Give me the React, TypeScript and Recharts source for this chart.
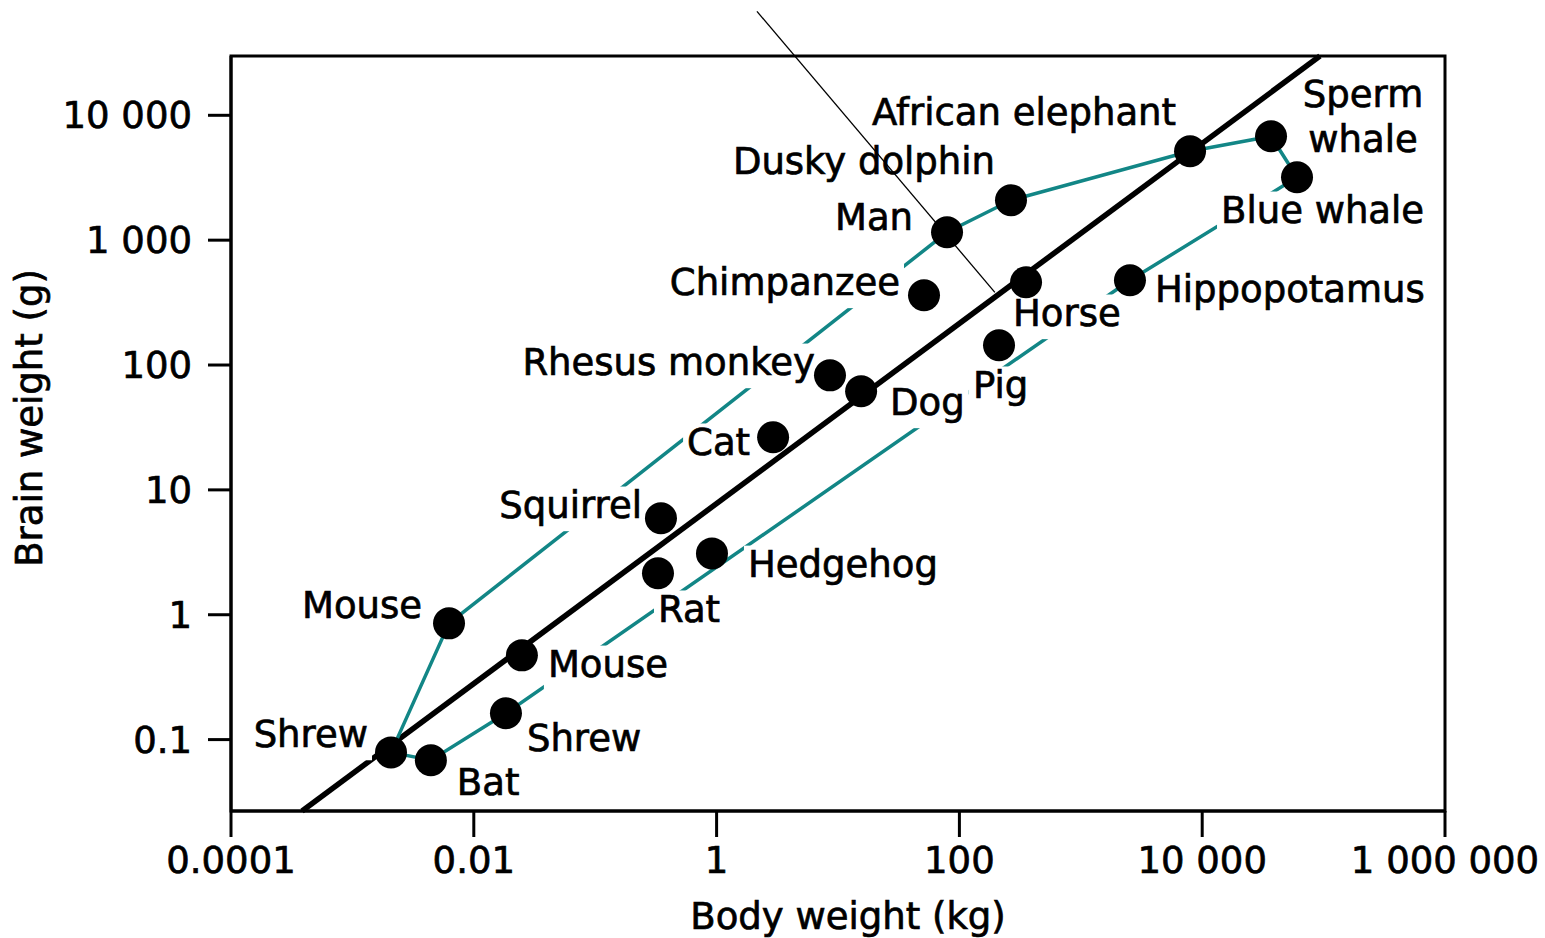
import React, { useLayoutEffect, useRef, useState } from 'react';
import { ScatterChart, Scatter, XAxis, YAxis, ReferenceLine, ReferenceArea } from 'recharts';

const FONT = '"DejaVu Sans", Verdana, sans-serif';
const FS = 37;
const TEXT_STROKE = 0.7;
const TEAL = '#128686';

// animals: body weight (kg) vs brain weight (g)
const IDS = ['shrewA', 'bat', 'mouseA', 'mouseB', 'shrewB', 'rat', 'squirrel', 'hedgehog', 'cat', 'rhesus',
  'dog', 'chimp', 'man', 'pig', 'horse', 'dolphin', 'hippo', 'elephant', 'sperm', 'blue'];
const NAMES = ['Shrew', 'Bat', 'Mouse', 'Mouse', 'Shrew', 'Rat', 'Squirrel', 'Hedgehog', 'Cat', 'Rhesus monkey',
  'Dog', 'Chimpanzee', 'Man', 'Pig', 'Horse', 'Dusky dolphin', 'Hippopotamus', 'African elephant', 'Sperm whale', 'Blue whale'];
const BODY_KG = [0.00208, 0.00443, 0.00625, 0.0249, 0.0184, 0.329, 0.348, 0.916, 2.92, 8.59,
  15.5, 51.1, 79.1, 212, 354, 266, 2541, 7943, 36900, 60400];
const BRAIN_G = [0.079, 0.0683, 0.853, 0.473, 0.1625, 2.15, 5.92, 3.1, 26.4, 82.7,
  61.6, 362, 1156, 144, 460, 2086, 477, 5148, 6790, 3187];

// the two teal outlines, point by point
const UPPER_PATH = ['shrewA', 'mouseA', 'man', 'dolphin', 'elephant', 'sperm', 'blue'];
const LOWER_PATH = ['shrewA', 'bat', 'shrewB', 'hippo', 'blue'];

const X_TICKS = [0.0001, 0.01, 1, 100, 10000, 1000000];
const Y_TICKS = [0.1, 1, 10, 100, 1000, 10000];
const X_DOMAIN: [number, number] = [0.0001, 1000000];
const Y_DOMAIN: [number, number] = [0.0268, 29850];

// straight black line, where it meets the frame
const FIT_LINE = [{ x: 0.000385, y: 0.0268 }, { x: 93300, y: 29850 }];
// thin pointer line, starts above the frame
const POINTER_LINE = [{ x: 2.15, y: 68000 }, { x: 196, y: 382 }];

// label offsets from the dot (px) and text anchor
type Anchor = 'start' | 'middle' | 'end';
const LABEL_POS: Record<string, { dx: number; dy: number; anchor: Anchor; wrap?: boolean }> = {
  shrewA: { dx: -23, dy: -5, anchor: 'end' },
  bat: { dx: 26, dy: 35, anchor: 'start' },
  mouseA: { dx: -27, dy: -5, anchor: 'end' },
  mouseB: { dx: 26, dy: 22, anchor: 'start' },
  shrewB: { dx: 21, dy: 38, anchor: 'start' },
  rat: { dx: 0, dy: 49, anchor: 'start' },
  squirrel: { dx: -19, dy: 0, anchor: 'end' },
  hedgehog: { dx: 36, dy: 24, anchor: 'start' },
  cat: { dx: -23, dy: 18, anchor: 'end' },
  rhesus: { dx: -15, dy: 0, anchor: 'end' },
  dog: { dx: 29, dy: 24, anchor: 'start' },
  chimp: { dx: -24, dy: 0, anchor: 'end' },
  man: { dx: -34, dy: -2, anchor: 'end' },
  pig: { dx: -26, dy: 53, anchor: 'start' },
  horse: { dx: -13, dy: 44, anchor: 'start' },
  dolphin: { dx: -16, dy: -26, anchor: 'end' },
  hippo: { dx: 25, dy: 22, anchor: 'start' },
  elephant: { dx: -14, dy: -26, anchor: 'end' },
  sperm: { dx: 92, dy: -29, anchor: 'middle', wrap: true },
  blue: { dx: -76, dy: 46, anchor: 'start' },
};
const LINE_H = 45;
const PAD = 4;

const animals = IDS.map((id, i) => ({ id, name: NAMES[i], x: BODY_KG[i], y: BRAIN_G[i] }));
const byId = (id: string) => animals.find((a) => a.id === id)!;
const upper = UPPER_PATH.map(byId);
const lower = LOWER_PATH.map(byId);

const fmt = (v: number) => (v >= 1000 ? v.toLocaleString('en-US').replace(/,/g, ' ') : String(v));

const NoDot = () => <g />;
const Dot = (p: any) => <circle cx={p.cx} cy={p.cy} r={16} fill="#000" />;

// text with a white box behind it, hides the teal lines
const DotLabel = (p: any) => {
  const ref = useRef<SVGTextElement>(null);
  const [box, setBox] = useState<{ x: number; w: number } | null>(null);
  const pos = LABEL_POS[p.payload.id];
  const lines: string[] = pos.wrap ? p.payload.name.split(' ') : [p.payload.name];
  const x = p.cx + pos.dx;
  const y = p.cy + pos.dy;
  useLayoutEffect(() => {
    if (ref.current) {
      const b = ref.current.getBBox();
      setBox({ x: b.x, w: b.width });
    }
  }, [p.cx, p.cy]);
  const top = y - 0.75 * FS - PAD;
  const bottom = y + (lines.length - 1) * LINE_H + 0.24 * FS + PAD;
  return (
    <g>
      {box && <rect x={box.x - PAD} y={top} width={box.w + 2 * PAD} height={bottom - top} fill="#fff" />}
      <text ref={ref} x={x} y={y} textAnchor={pos.anchor} fontSize={FS} fontFamily={FONT}
        fill="#000" stroke="#000" strokeWidth={TEXT_STROKE}>
        {lines.map((l, i) => (
          <tspan key={i} x={x} dy={i === 0 ? 0 : LINE_H}>{l}</tspan>
        ))}
      </text>
    </g>
  );
};

const YTitle = () => (
  <text x={42} y={418} transform="rotate(-90 42 418)" textAnchor="middle" fontSize={FS} fontFamily={FONT}
    fill="#000" stroke="#000" strokeWidth={TEXT_STROKE}>
    Brain weight (g)
  </text>
);
const XTitle = () => (
  <text x={848} y={929} textAnchor="middle" fontSize={FS} fontFamily={FONT}
    fill="#000" stroke="#000" strokeWidth={TEXT_STROKE}>
    Body weight (kg)
  </text>
);

export default function App() {
  const tick = { fill: '#000', fontSize: FS, fontFamily: FONT, stroke: '#000', strokeWidth: TEXT_STROKE };
  const line = { stroke: '#000', strokeWidth: 3 };
  return (
    <div style={{ position: 'absolute', left: 0, top: 0, background: '#fff', fontFamily: FONT }}>
      <ScatterChart width={1545} height={938} margin={{ top: 56, right: 100, bottom: 0, left: 0 }}>
        <XAxis
          dataKey="x"
          type="number"
          scale="log"
          domain={X_DOMAIN}
          allowDataOverflow
          ticks={X_TICKS}
          tickFormatter={fmt}
          tick={tick}
          tickLine={line}
          axisLine={line}
          tickSize={26}
          tickMargin={10}
          height={127}
          interval={0}
          label={<XTitle />}
        />
        <YAxis
          dataKey="y"
          type="number"
          scale="log"
          domain={Y_DOMAIN}
          allowDataOverflow
          ticks={Y_TICKS}
          tickFormatter={fmt}
          tick={tick}
          tickLine={line}
          axisLine={line}
          tickSize={23}
          tickMargin={16}
          width={231}
          interval={0}
          label={<YTitle />}
        />
        <ReferenceArea x1={X_DOMAIN[0]} x2={X_DOMAIN[1]} y1={Y_DOMAIN[0]} y2={Y_DOMAIN[1]}
          fill="none" stroke="#000" strokeWidth={3} ifOverflow="visible" />
        <Scatter data={upper} line={{ stroke: TEAL, strokeWidth: 3.5 }} shape={NoDot} isAnimationActive={false} />
        <Scatter data={lower} line={{ stroke: TEAL, strokeWidth: 3.5 }} shape={NoDot} isAnimationActive={false} />
        <Scatter data={animals} shape={DotLabel} isAnimationActive={false} />
        <ReferenceLine segment={FIT_LINE} stroke="#000" strokeWidth={5.5} ifOverflow="visible" />
        <Scatter data={animals} shape={Dot} isAnimationActive={false} />
        <ReferenceLine segment={POINTER_LINE} stroke="#000" strokeWidth={1.3} ifOverflow="visible" zIndex={2500} />
      </ScatterChart>
    </div>
  );
}
